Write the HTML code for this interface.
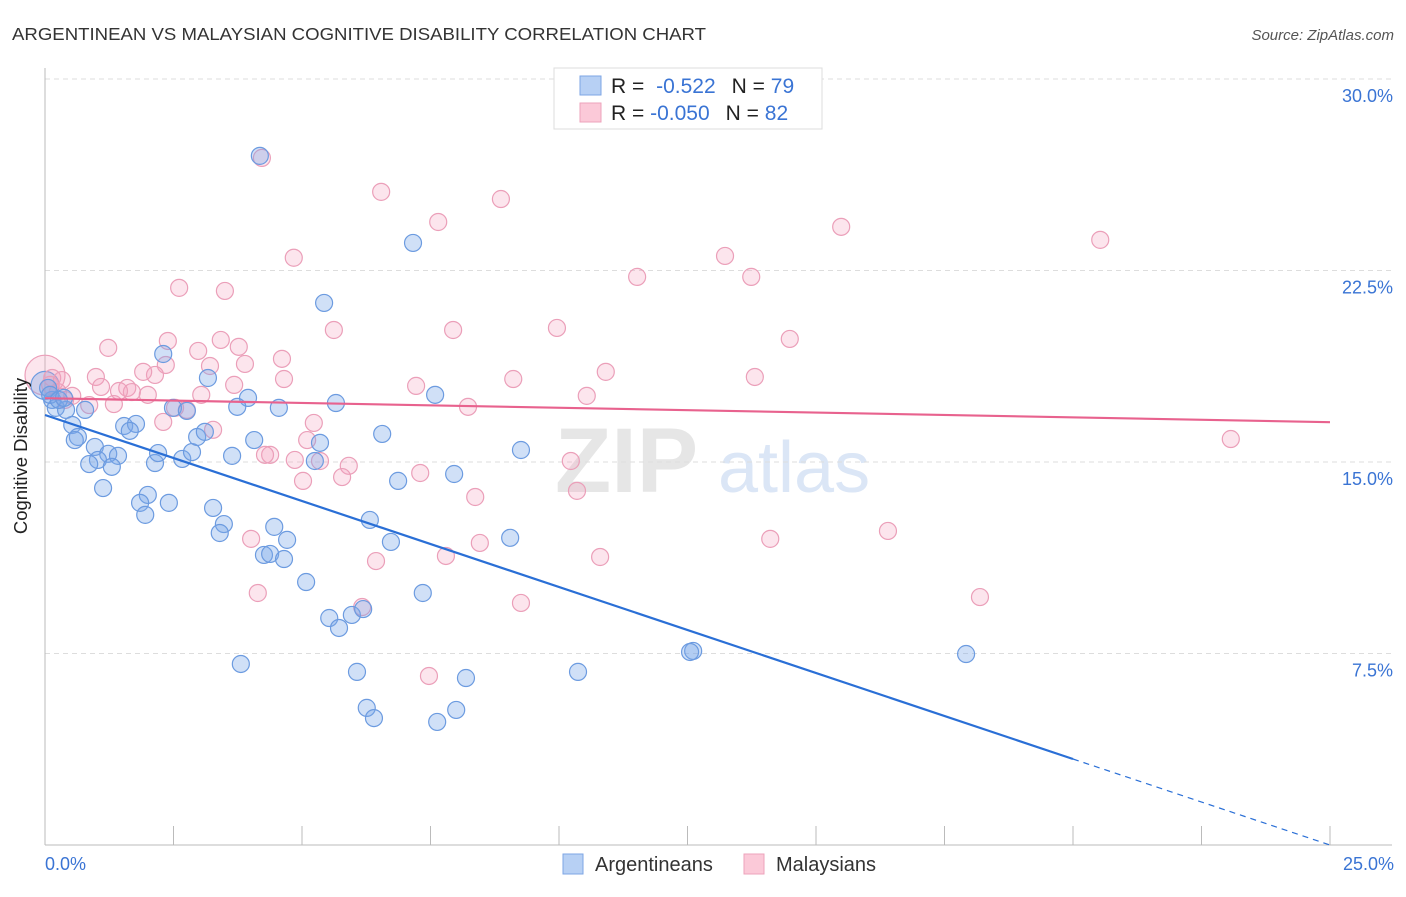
<!DOCTYPE html>
<html><head><meta charset="utf-8"><style>
body{margin:0;background:#fff;font-family:"Liberation Sans",sans-serif;}
svg text{font-family:"Liberation Sans",sans-serif;}
</style></head><body>
<svg id="chart" width="1406" height="892" viewBox="0 0 1406 892">
<text x="12" y="40" font-size="17.5" fill="#333" textLength="694" lengthAdjust="spacingAndGlyphs">ARGENTINEAN VS MALAYSIAN COGNITIVE DISABILITY CORRELATION CHART</text>
<text x="1394" y="40" font-size="15" fill="#555" font-style="italic" text-anchor="end">Source: ZipAtlas.com</text>
<g>
<text x="555" y="492" font-size="92" fill="#e6e6e6" font-family="Liberation Serif, serif" font-weight="bold">ZIP</text>
<text x="718" y="492" font-size="72" fill="#dbe6f6">atlas</text>
</g>
<g id="grid"></g>
<g id="axes"></g>
<g id="marks"></g>
<g id="trend"></g>
<text x="27" y="456" font-size="18.5" fill="#222" text-anchor="middle" transform="rotate(-90 27 456)">Cognitive Disability</text>
<g>
<rect x="554" y="68" width="268" height="61" fill="#fff" stroke="#ddd"/>
<rect x="580" y="76" width="21" height="19" fill="#b7d0f4" stroke="#7ea6e4"/>
<rect x="580" y="103" width="21" height="19" fill="#fbc9d8" stroke="#eea3bb"/>
<text x="611" y="93" font-size="21" fill="#222">R = <tspan fill="#3a74d4" dx="6">-0.522</tspan><tspan fill="#222" dx="16">N = </tspan><tspan fill="#3a74d4">79</tspan></text>
<text x="611" y="120" font-size="21" fill="#222">R = <tspan fill="#3a74d4">-0.050</tspan><tspan fill="#222" dx="16">N = </tspan><tspan fill="#3a74d4">82</tspan></text>
</g>
<g>
<rect x="563" y="854" width="20" height="20" fill="#b7d0f4" stroke="#7ea6e4"/>
<text x="595" y="871" font-size="20" fill="#333">Argentineans</text>
<rect x="744" y="854" width="20" height="20" fill="#fbc9d8" stroke="#eea3bb"/>
<text x="776" y="871" font-size="20" fill="#333">Malaysians</text>
</g>
</svg>
<script>
const yTicks=[7.5,15,22.5,30];
const yTickLabels=["7.5%","15.0%","22.5%","30.0%"];
const xTickCount=10;
const xLabels=["0.0%","25.0%"];
const blueX=[4.18,7.16,5.43,2.30,3.17,3.95,3.74,4.55,2.49,2.76,5.66,7.59,0.14,0.21,0.41,0.78,0.53,1.54,1.77,1.65,0.64,0.58,0.97,1.23,1.42,1.03,0.86,1.30,2.14,2.20,2.67,2.86,2.96,3.11,3.64,4.07,5.35,5.25,6.56,9.26,7.96,6.87,1.13,2.00,1.85,2.41,1.95,3.27,3.48,3.40,4.46,4.71,4.26,4.38,4.65,6.32,6.73,9.05,5.08,7.35,5.53,5.72,5.97,6.19,3.81,6.07,10.37,8.19,12.61,12.55,17.92,6.26,6.40,8.00,7.63,0.06,0.10,0.27,0.37];
const blueY=[26.99,23.58,21.23,19.23,18.29,17.51,17.16,17.12,17.12,17.00,17.31,17.63,17.43,17.12,17.04,17.04,16.45,16.41,16.49,16.22,15.98,15.86,15.59,15.32,15.24,15.08,14.92,14.81,14.96,15.35,15.12,15.39,15.98,16.18,15.24,15.86,15.75,15.04,16.10,15.47,14.53,14.26,13.98,13.71,13.40,13.40,12.93,13.20,12.57,12.22,12.46,11.95,11.36,11.40,11.20,12.73,11.87,12.03,10.30,9.87,8.89,8.50,9.01,9.24,7.09,6.78,6.78,6.54,7.60,7.56,7.48,5.37,4.97,5.29,4.82,17.90,17.63,17.43,17.51];
const pinkX=[4.22,6.54,8.87,7.65,15.49,20.53,4.84,13.23,11.52,13.74,2.61,3.50,5.62,7.94,9.96,14.49,2.39,3.42,3.77,1.23,2.98,4.61,3.21,2.35,3.89,9.11,10.91,13.81,0.99,2.14,1.91,7.22,10.54,3.68,1.60,1.69,1.09,1.44,4.65,3.04,2.00,0.53,0.39,0.86,1.34,8.23,2.53,2.76,2.30,5.23,3.27,5.10,4.38,4.28,4.86,5.35,5.91,5.78,7.30,5.02,10.23,8.37,10.35,8.46,4.01,14.11,16.40,10.80,7.80,6.44,4.14,9.26,18.19,6.17,7.47,23.07,0.14,0.10,0.25,0.33];
const pinkY=[26.91,25.58,25.30,24.40,24.21,23.70,23.00,23.07,22.25,22.25,21.82,21.70,20.17,20.17,20.25,19.82,19.74,19.78,19.51,19.47,19.35,19.04,18.76,18.80,18.84,18.25,18.53,18.33,18.33,18.41,18.53,17.98,17.59,18.02,17.90,17.74,17.94,17.78,18.25,17.63,17.63,17.59,17.43,17.23,17.27,17.16,17.12,17.04,16.57,16.53,16.26,15.86,15.28,15.28,15.08,15.04,14.85,14.41,14.57,14.26,15.04,13.63,13.87,11.83,11.99,11.99,12.30,11.28,11.32,11.12,9.87,9.48,9.71,9.32,6.62,15.90,18.29,18.02,17.74,18.21];
const bigPoints=[{x:0,y:18.4,r:20,c:"pink"},{x:0,y:18.0,r:14,c:"blue"}];
const blueTrend=[16.84,0];
const pinkTrend=[17.5,16.56];
const blueSolidEnd=20;

const X0=45,X1=1330,Y0=845,PER=191.5/7.5;
const sx=v=>X0+(X1-X0)*v/25;
const sy=v=>Y0-v*PER;
const NS="http://www.w3.org/2000/svg";
function mk(tag,attrs,parent){const e=document.createElementNS(NS,tag);for(const k in attrs)e.setAttribute(k,attrs[k]);parent.appendChild(e);return e;}
const grid=document.getElementById('grid'),axes=document.getElementById('axes'),marks=document.getElementById('marks'),trend=document.getElementById('trend');
yTicks.forEach((t,i)=>{
  const l=mk('line',{x1:X0,x2:1392,y1:sy(t),y2:sy(t),stroke:'#ddd','stroke-dasharray':'5,4'},grid);
  
  
  const tx=mk('text',{x:1393,y:sy(t)+23,'font-size':18,fill:'#3a74d4','text-anchor':'end'},axes);
  tx.textContent=yTickLabels[i];
  
  
});
mk('line',{x1:X0,x2:X0,y1:68,y2:Y0,stroke:'#bbb'},axes);
mk('line',{x1:X0,x2:1392,y1:Y0,y2:Y0,stroke:'#bbb'},axes);
for(let i=0;i<=xTickCount;i++){
  const x=X0+(X1-X0)*i/xTickCount;
  const t=mk('line',{x1:x,x2:x,y1:826,y2:Y0,stroke:'#bbb'},axes);
  
  
}
const xl0=mk('text',{x:45,y:870,'font-size':18,fill:'#3a74d4'},axes);xl0.textContent=xLabels[0];


const xl1=mk('text',{x:1394,y:870,'font-size':18,fill:'#3a74d4','text-anchor':'end'},axes);xl1.textContent=xLabels[1];


const sty={blue:{fill:'rgba(120,165,232,0.35)',stroke:'#6c9be0'},pink:{fill:'rgba(244,160,190,0.28)',stroke:'#eb9fb9'}};
bigPoints.forEach(p=>{
  const c=mk('circle',{cx:sx(p.x),cy:sy(p.y),r:p.r,fill:sty[p.c].fill,stroke:sty[p.c].stroke,'stroke-width':1.2},marks);
  
  
});
pinkX.forEach((v,i)=>{
  const c=mk('circle',{cx:sx(v),cy:sy(pinkY[i]),r:8.5,fill:sty.pink.fill,stroke:sty.pink.stroke,'stroke-width':1.2},marks);
  
  
});
blueX.forEach((v,i)=>{
  const c=mk('circle',{cx:sx(v),cy:sy(blueY[i]),r:8.5,fill:sty.blue.fill,stroke:sty.blue.stroke,'stroke-width':1.2},marks);
  
  
});
const bAt=x=>blueTrend[0]+(blueTrend[1]-blueTrend[0])*x/25;
const l1=mk('line',{x1:sx(0),y1:sy(bAt(0)),x2:sx(blueSolidEnd),y2:sy(bAt(blueSolidEnd)),stroke:'#2a6fd6','stroke-width':2.2},trend);


const l2=mk('line',{x1:sx(blueSolidEnd),y1:sy(bAt(blueSolidEnd)),x2:sx(25),y2:sy(bAt(25)),stroke:'#2a6fd6','stroke-width':1.2,'stroke-dasharray':'6,5'},trend);


const l3=mk('line',{x1:sx(0),y1:sy(pinkTrend[0]),x2:sx(25),y2:sy(pinkTrend[1]),stroke:'#e8628e','stroke-width':2.2},trend);


</script>
</body></html>
